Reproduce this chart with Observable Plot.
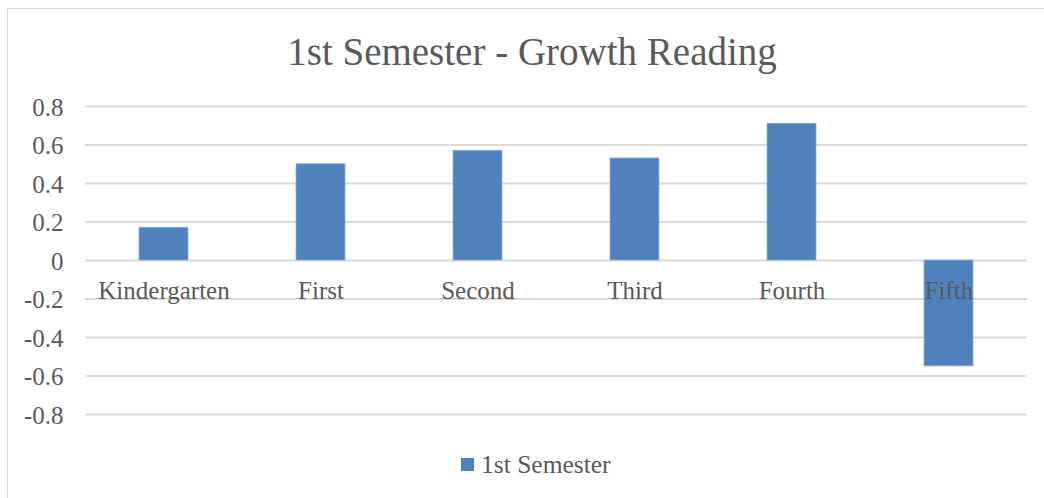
<!DOCTYPE html>
<html>
<head>
<meta charset="utf-8">
<script src="https://cdn.jsdelivr.net/npm/d3@7"></script>
<script src="https://cdn.jsdelivr.net/npm/@observablehq/plot@0.6"></script>
<style>
  html, body { margin: 0; padding: 0; background: #fff; }
  #wrap { position: relative; width: 1044px; height: 498px; overflow: hidden; font-family: "Liberation Serif", serif; color: #595959; }
  #frame { position: absolute; left: 7px; top: 8px; width: 1100px; height: 600px; border-left: 1.5px solid #d9d9d9; border-top: 1.5px solid #d9d9d9; }
  #title { position: absolute; left: 0; width: 1064px; top: 32px; text-align: center; font-size: 39px; line-height: 39px; white-space: nowrap; }
  #chart { position: absolute; left: 0; top: 0; }
  #legend { position: absolute; left: 461px; top: 452px; display: flex; align-items: center; font-size: 25.5px; line-height: 25px; white-space: nowrap; }
  #legend .sw { width: 13px; height: 13px; background: #4f81bd; margin-right: 7px; }
</style>
</head>
<body>
<div id="wrap">
  <div id="frame"></div>
  <div id="title">1st Semester - Growth Reading</div>
  <div id="chart"></div>
  <div id="legend"><span class="sw"></span><span>1st Semester</span></div>
</div>
<script>
const categories = ["Kindergarten", "First", "Second", "Third", "Fourth", "Fifth"];
const values = [0.17, 0.50, 0.57, 0.53, 0.71, -0.55];
const yTicks = [-0.8, -0.6, -0.4, -0.2, 0, 0.2, 0.4, 0.6, 0.8];
const seriesName = "1st Semester";

const data = categories.map((c, i) => ({category: c, value: values[i]}));

const chart = Plot.plot({
  width: 1044,
  height: 498,
  marginLeft: 85,
  marginRight: 17,
  marginTop: 106,
  marginBottom: 84,
  style: {fontFamily: "'Liberation Serif', serif", fontSize: "25px", color: "#595959", background: "transparent"},
  x: {domain: categories, paddingInner: 0.685, paddingOuter: 0.3425, axis: null},
  y: {domain: [-0.8, 0.8], ticks: yTicks, grid: false, label: null},
  marks: [
    Plot.ruleY(yTicks, {stroke: "#d9d9d9", strokeWidth: 2}),
    Plot.axisY({ticks: yTicks, tickSize: 0, tickPadding: 22, label: null,
      tickFormat: d => d === 0 ? "0" : d.toFixed(1), fill: "#595959", fontSize: 25, dy: 1}),
    Plot.barY(data, {x: "category", y: "value", fill: "#4f81bd", stroke: "#8fb0d9", strokeWidth: 0.8}),
    Plot.text(categories, {x: d => d, y: () => 0, dy: 30, text: d => d, fill: "#595959", fontSize: 25})
  ]
});
document.getElementById("chart").appendChild(chart);
</script>
</body>
</html>
